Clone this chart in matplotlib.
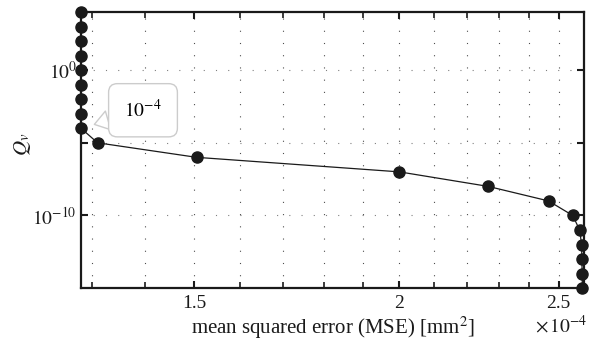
import matplotlib
matplotlib.use('Agg')
import matplotlib.pyplot as plt
import numpy as np
from matplotlib.ticker import FixedLocator, NullLocator, FixedFormatter

plt.rcParams['font.family'] = ['Liberation Serif', 'DejaVu Serif']
plt.rcParams['mathtext.fontset'] = 'stix'

# Q_v exponents from 10^4 down to 10^-15
qv_exp = [4, 3, 2, 1, 0, -1, -2, -3, -4, -5, -6, -7, -8, -9, -10, -11, -12, -13, -14, -15]
# MSE in units of 1e-4 mm^2
mse = [1.28, 1.28, 1.28, 1.28, 1.28, 1.28, 1.28, 1.28, 1.28, 1.31,
       1.505, 2.00, 2.265, 2.465, 2.55, 2.575, 2.582, 2.583, 2.584, 2.585]
qv = [10.0 ** e for e in qv_exp]

x_major = [1.5, 2.0, 2.5]
x_labels = ['1.5', '2', '2.5']
x_minor = [1.3, 1.4, 1.6, 1.7, 1.8, 1.9, 2.1, 2.2, 2.3, 2.4]
y_major = [1e-10, 1e-5, 1e0]
y_labels = ['$10^{-10}$', '', '$10^{0}$']

fig = plt.figure(figsize=(6.0, 3.43), dpi=100)
ax = fig.add_axes([0.135, 0.16, 0.838, 0.805])

ax.plot(mse, qv, color='#1a1a1a', lw=0.9, marker='o', ms=8, clip_on=False, zorder=5)

ax.set_xscale('log')
ax.set_yscale('log')
ax.set_xlim(1.28, 2.59)
ax.set_ylim(1e-15, 1e4)

ax.xaxis.set_major_locator(FixedLocator(x_major))
ax.xaxis.set_major_formatter(FixedFormatter(x_labels))
ax.xaxis.set_minor_locator(FixedLocator(x_minor))
ax.xaxis.set_minor_formatter(FixedFormatter([''] * len(x_minor)))
ax.yaxis.set_major_locator(FixedLocator(y_major))
ax.yaxis.set_major_formatter(FixedFormatter(y_labels))
ax.yaxis.set_minor_locator(NullLocator())

ax.tick_params(which='both', direction='in', top=True, right=True, labelsize=14, colors='#1a1a1a')
ax.tick_params(which='major', length=5, width=1.5)
ax.tick_params(which='minor', length=4, width=1.2)
ax.tick_params(axis='x', pad=5)
ax.tick_params(axis='y', pad=3)
for s in ax.spines.values():
    s.set_linewidth(1.6)
    s.set_color('#1a1a1a')

ax.grid(True, which='both', axis='x', color='0.3', linestyle=(0, (1, 10)), lw=0.8)
ax.grid(True, which='major', axis='y', color='0.5', linestyle=(0, (1, 10)), lw=0.8)

ax.set_xlabel('mean squared error (MSE) [mm$^2$]', fontsize=15, labelpad=2, color='#1a1a1a')
ax.set_ylabel('$Q_v$', fontsize=15, color='#1a1a1a')
ax.yaxis.set_label_coords(-0.095, 0.52)
fig.text(0.935, 0.018, r'$\times\,10^{-4}$', fontsize=14, ha='center', va='bottom', color='#1a1a1a')

# callout for Q_v = 10^-4
ax.annotate('$10^{-4}$', xy=(mse[8], qv[8]), xytext=(62, 18), textcoords='offset pixels',
            fontsize=14, ha='center', va='center',
            bbox=dict(boxstyle='round,pad=0.8,rounding_size=0.45', fc='white', ec='0.8', lw=1),
            arrowprops=dict(arrowstyle='wedge,tail_width=1.0,shrink_factor=0.5',
                            fc='white', ec='0.8', lw=1, relpos=(0.0, 0.25),
                            shrinkA=0, shrinkB=10),
            zorder=6)

fig.savefig('out.png', dpi=100)
